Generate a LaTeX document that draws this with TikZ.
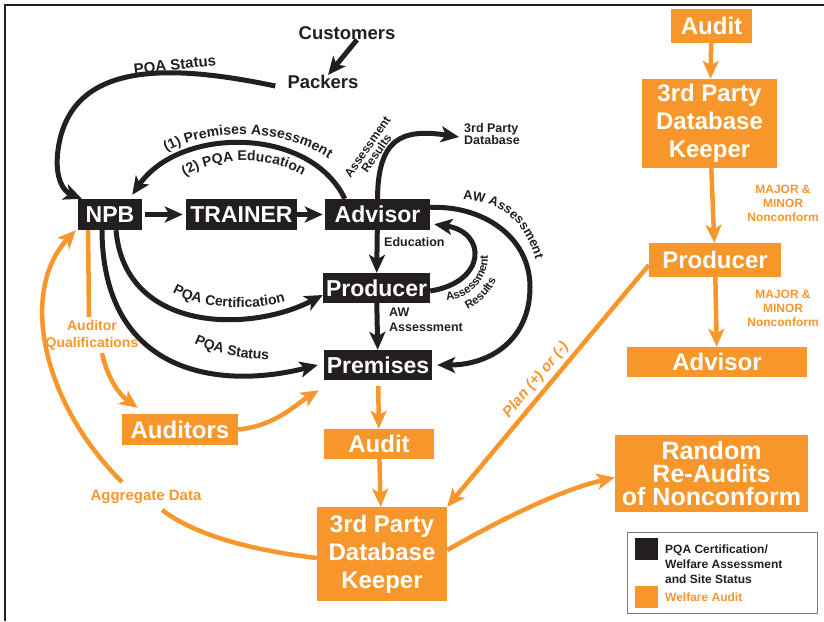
\documentclass[tikz,border=0pt]{standalone}
\usepackage{fontspec}
\setmainfont{Liberation Sans}
\usepackage{tikz}
\usetikzlibrary{arrows.meta,decorations.text}
\definecolor{pqablack}{HTML}{231F20}
\definecolor{welfare}{HTML}{F7962B}
\newcommand{\arcfont}{\bfseries\fontsize{14}{16}\selectfont\color{pqablack}}
\newcommand{\smallarcfont}{\bfseries\fontsize{11.5}{14}\selectfont\color{pqablack}}

\begin{document}
\begin{tikzpicture}[x=1pt, y=-1pt, >={Stealth[length=18pt, width=16pt, inset=4.5pt]},
    blkbox/.style={fill=pqablack, text=white, inner sep=0pt, minimum height=31pt, font=\bfseries\fontsize{23}{26}\selectfont},
    orgbox/.style={fill=welfare, text=white, inner sep=0pt, align=center, font=\bfseries\fontsize{24}{28}\selectfont},
    blkline/.style={pqablack, line width=5pt},
    orgline/.style={welfare, line width=4.5pt},
    lbl/.style={text=pqablack, inner sep=0pt, font=\bfseries\fontsize{12.5}{14}\selectfont},
    orglbl/.style={text=welfare, inner sep=0pt, align=center, font=\bfseries\fontsize{14}{17}\selectfont},
    along/.style={decorate, decoration={text along path, text align=center, text={#1}}},
    alongleft/.style={decorate, decoration={text along path, text align=left, text={#1}}}]

    \useasboundingbox (0,0) rectangle (824,621);
    \draw[pqablack, line width=2.5pt] (5,621) -- (5,5) -- (824,5);

    % black boxes
    \node[blkbox, minimum width=64pt] (npb) at (110,214.5) {NPB};
    \node[blkbox, minimum width=111pt] (trainer) at (241.5,214.5) {TRAINER};
    \node[blkbox, minimum width=105pt] (adv) at (377.5,214.5) {Advisor};
    \node[blkbox, minimum width=107pt, minimum height=30pt] (prod) at (376.5,288) {Producer};
    \node[blkbox, minimum width=108pt, minimum height=30pt] (prem) at (378,365) {Premises};

    % orange boxes
    \node[orgbox, minimum width=81pt, minimum height=34pt] (auditR) at (711.5,26) {Audit};
    \node[orgbox, minimum width=135pt, minimum height=89pt] (dbkR) at (709.5,123.5) {3rd Party\\Database\\Keeper};
    \node[orgbox, minimum width=132pt, minimum height=34pt] (prodR) at (715,260) {Producer};
    \node[orgbox, minimum width=180pt, minimum height=30pt] (advR) at (717,362) {Advisor};
    \node[orgbox, minimum width=116pt, minimum height=31pt] (auditors) at (180,429.5) {Auditors};
    \node[orgbox, minimum width=110pt, minimum height=30pt] (audit) at (379,444) {Audit};
    \node[orgbox, minimum width=130pt, minimum height=94pt] (dbk) at (382,554) {3rd Party\\Database\\Keeper};
    \node[orgbox, minimum width=193pt, minimum height=77pt, font=\bfseries\fontsize{25}{23}\selectfont] (reaudit) at (711.5,473.5) {Random\\Re-Audits\\of Nonconform};

    % labels
    \node[lbl, font=\bfseries\fontsize{18.5}{20}\selectfont] (cust) at (347,33) {Customers};
    \node[lbl, font=\bfseries\fontsize{18.5}{20}\selectfont] (pack) at (323,82) {Packers};
    \node[lbl, font=\bfseries\fontsize{15}{17}\selectfont, rotate=6] (topstatus) at (175,66) {PQA Status};
    \node[lbl, anchor=west, align=left, font=\bfseries\fontsize{12.5}{12}\selectfont] (tpd) at (464,134) {3rd Party\\Database};
    \node[lbl, align=center, rotate=55, font=\bfseries\fontsize{12}{11}\selectfont] (advres) at (372,150) {Assessment\\Results};
    \node[lbl, anchor=west] (edu) at (384,242) {Education};
    \node[lbl, anchor=west, align=left, font=\bfseries\fontsize{12.5}{15}\selectfont] (awa) at (389,319.5) {AW\\Assessment};
    \node[orglbl] (aq) at (92,335) {Auditor\\Qualifications};
    \node[orglbl, font=\bfseries\fontsize{15}{17}\selectfont] (agg) at (146,497) {Aggregate Data};
    \node[orglbl, font=\bfseries\itshape\fontsize{15}{17}\selectfont, rotate=50] (plan) at (536,380) {Plan (+) or (-)};
    \node[orglbl, font=\bfseries\fontsize{12}{14}\selectfont] (nc1) at (783,203) {MAJOR \&\\MINOR\\Nonconform};
    \node[orglbl, font=\bfseries\fontsize{12}{14}\selectfont] (nc2) at (783,308) {MAJOR \&\\MINOR\\Nonconform};

    % curved labels
    \path[along={|\arcfont|(1) Premises Assessment}] (140,174) .. controls (180,120) and (315,120) .. (352,184);
    \path[along={|\arcfont|(2) PQA Education}] (165,193) .. controls (200,150) and (290,150) .. (322,193);
    \path[along={|\arcfont|PQA Certification}] (160,284) .. controls (190,311) and (255,314) .. (300,297);
    \path[along={|\arcfont|PQA Status}] (180,336) .. controls (210,354) and (245,361) .. (285,359);
    \path[alongleft={|\bfseries\fontsize{13}{15}\selectfont\color{pqablack}|AW Assessment}] (463,200) .. controls (505,199) and (539,231) .. (540,295);
    \path[along={|\smallarcfont|Assessment}] (436.5,300) .. controls (468,305.5) and (494.5,276.3) .. (486.5,245.5);
    \path[along={|\smallarcfont|Results}] (439,314) .. controls (474.5,317) and (504,287) .. (501,251.5);

    % legend
    \node[draw=pqablack!60, line width=1pt, minimum width=190pt, minimum height=81pt] (legend) at (722,572.5) {};
    \node[fill=pqablack, minimum width=23pt, minimum height=22pt, inner sep=0pt] (keyblk) at (646.5,549) {};
    \node[fill=welfare, minimum width=23pt, minimum height=22pt, inner sep=0pt] (keyorg) at (646.5,596.5) {};
    \node[lbl, anchor=west, align=left, font=\bfseries\fontsize{12}{15}\selectfont] (keyblktxt) at (665,564) {PQA Certification/\\Welfare Assessment\\and Site Status};
    \node[orglbl, anchor=west, font=\bfseries\fontsize{12}{15}\selectfont] (keyorgtxt) at (665,597) {Welfare Audit};

    % black connectors
    \path[blkline, ->]
        (npb) edge[shorten <=3pt, shorten >=3pt] (trainer)
        (trainer) edge[shorten >=2pt] (adv)
        (adv) edge (prod)
        (prod) edge (prem);
    \draw[blkline, ->] ([xshift=10pt]cust.south) -- ([xshift=5pt]pack.north);
    \draw[blkline, ->] ([xshift=-12pt, yshift=-4pt]pack.west) .. controls (170,64) and (70,60) .. (58,150)
        .. controls (54,180) and (65,192) .. ([xshift=4pt]npb.north west);
    \draw[blkline, ->] ([xshift=20pt]adv.north west) .. controls (310,126) and (180,126) .. ([xshift=-10pt, yshift=4pt]npb.north east);
    \draw[blkline, ->] (adv.north) .. controls (378,140) and (400,128) .. ([xshift=-5pt, yshift=-3pt]tpd.west);
    \draw[blkline, ->] ([yshift=-3pt]prod.east) .. controls (487,282) and (487,232) .. ([xshift=4pt, yshift=6pt]adv.south east);
    \draw[blkline, ->] ([yshift=7pt]adv.east) .. controls (480,205) and (530,235) .. (530,287)
        .. controls (530,340) and (490,365) .. ([xshift=5pt]prem.east);
    \draw[blkline, ->] ([xshift=6pt]npb.south) .. controls (125,333) and (250,333) .. ([yshift=-7pt]prod.west);
    \draw[blkline, ->] ([xshift=-8pt]npb.south) .. controls (103,375) and (220,390) .. ([xshift=-6pt]prem.west);

    % orange connectors
    \path[orgline, ->]
        (auditR) edge (dbkR)
        (dbkR) edge (prodR)
        (prodR) edge (advR)
        (prem) edge[shorten <=6pt] (audit)
        (audit) edge (dbk);
    \draw[orgline] ([xshift=-22pt]npb.south) -- ([xshift=-3pt, yshift=3pt]aq.north);
    \draw[orgline, ->] ([xshift=10pt, yshift=-3pt]aq.south) .. controls (108,380) and (120,395) .. ([xshift=16pt, yshift=6pt]auditors.north west);
    \draw[orgline, ->] (auditors.east) .. controls (275,426) and (295,405) .. ([xshift=-5pt, yshift=-10pt]prem.south west);
    \draw[orgline] ([yshift=-4pt]dbk.west) .. controls (250,550) and (195,535) .. ([xshift=16pt, yshift=-6pt]agg.south);
    \draw[orgline, ->] ([xshift=-24pt, yshift=8pt]agg.north) .. controls (40,400) and (20,290) .. ([xshift=-2pt]npb.south west);
    \draw[orgline, ->] ([yshift=-5pt]prodR.west) -- (dbk.north east);
    \draw[orgline, ->] ([yshift=4pt]dbk.east) .. controls (500,520) and (560,490) .. ([yshift=-4pt]reaudit.west);
\end{tikzpicture}
\end{document}
